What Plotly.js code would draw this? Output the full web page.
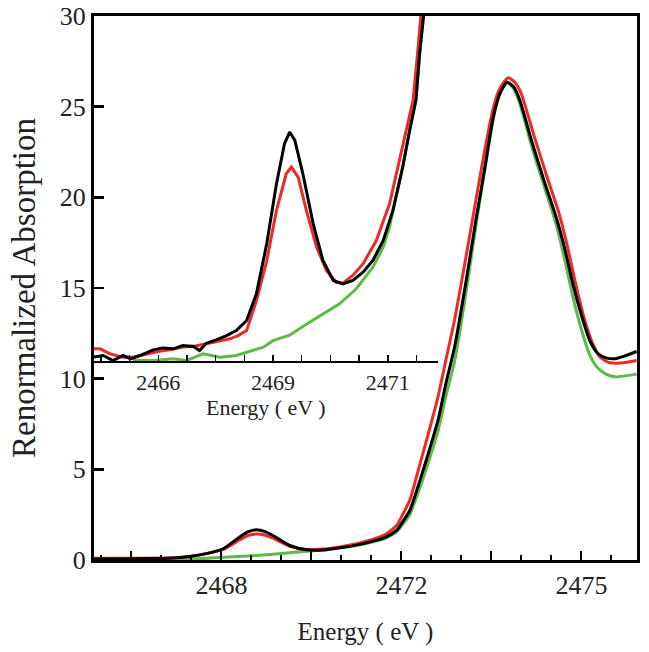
<!DOCTYPE html>
<html>
<head>
<meta charset="utf-8">
<script src="https://cdn.plot.ly/plotly-3.0.1.min.js"></script>
<style>
  html, body { margin: 0; padding: 0; background: #fff; }
  #chart { width: 649px; height: 652px; }
</style>
</head>
<body>
<div id="chart"></div>
<script>
// main spectra (energy in eV, renormalized absorption)
var mainBlackX = [2466.88, 2467.31, 2467.81, 2468.14, 2468.47, 2468.75, 2469.03, 2469.30, 2469.44, 2469.58, 2469.72, 2469.86, 2470.14, 2470.42, 2470.69, 2470.97, 2471.25, 2471.53, 2471.75, 2471.92, 2472.02, 2472.14, 2472.31, 2472.46, 2472.61, 2472.74, 2472.89, 2473.07, 2473.25, 2473.39, 2473.53, 2473.64, 2473.76, 2473.87, 2473.97, 2474.19, 2474.39, 2474.58, 2474.72, 2474.86, 2475.01, 2475.14, 2475.27, 2475.41, 2475.56, 2475.72, 2475.92];
var mainBlackY = [0.05, 0.06, 0.08, 0.10, 0.19, 0.35, 0.62, 1.26, 1.55, 1.67, 1.58, 1.35, 0.80, 0.56, 0.55, 0.67, 0.82, 1.04, 1.28, 1.63, 2.10, 2.73, 4.39, 6.0, 7.7, 9.7, 11.8, 15.2, 18.9, 21.6, 24.4, 25.7, 26.35, 26.1, 25.4, 22.9, 20.8, 18.9, 17.2, 15.2, 13.4, 12.1, 11.4, 11.15, 11.1, 11.25, 11.5];

var mainRedX = [2466.88, 2467.31, 2467.81, 2468.14, 2468.47, 2468.75, 2469.03, 2469.30, 2469.44, 2469.58, 2469.72, 2469.86, 2470.14, 2470.42, 2470.69, 2470.97, 2471.25, 2471.53, 2471.75, 2471.92, 2472.02, 2472.14, 2472.31, 2472.46, 2472.61, 2472.74, 2472.89, 2473.07, 2473.25, 2473.39, 2473.53, 2473.64, 2473.78, 2473.90, 2474.00, 2474.22, 2474.42, 2474.62, 2474.76, 2474.90, 2475.05, 2475.18, 2475.31, 2475.45, 2475.60, 2475.75, 2475.92];
var mainRedY = [0.10, 0.10, 0.10, 0.12, 0.20, 0.35, 0.58, 1.10, 1.35, 1.44, 1.38, 1.20, 0.75, 0.58, 0.60, 0.72, 0.90, 1.15, 1.45, 1.90, 2.5, 3.3, 5.3, 7.1, 9.0, 11.0, 13.3, 16.6, 20.0, 22.6, 24.9, 26.0, 26.6, 26.3, 25.7, 23.3, 21.2, 19.2, 17.4, 15.3, 13.3, 12.0, 11.2, 10.9, 10.85, 10.9, 11.0];

var mainGreenX = [2466.88, 2467.81, 2468.47, 2469.03, 2469.58, 2470.14, 2470.42, 2470.69, 2470.97, 2471.25, 2471.53, 2471.75, 2471.92, 2472.02, 2472.14, 2472.31, 2472.46, 2472.61, 2472.74, 2472.89, 2473.07, 2473.25, 2473.39, 2473.53, 2473.64, 2473.76, 2473.87, 2473.97, 2474.19, 2474.39, 2474.58, 2474.72, 2474.86, 2475.01, 2475.14, 2475.27, 2475.41, 2475.56, 2475.72, 2475.92];
var mainGreenY = [0.02, 0.03, 0.06, 0.15, 0.25, 0.40, 0.48, 0.55, 0.67, 0.80, 1.00, 1.22, 1.55, 1.95, 2.5, 4.0, 5.5, 7.1, 9.0, 11.0, 14.6, 18.6, 21.5, 24.3, 25.7, 26.35, 26.0, 25.2, 22.6, 20.5, 18.5, 16.6, 14.5, 12.6, 11.3, 10.6, 10.25, 10.1, 10.15, 10.25];

// inset: pre-edge region
var insetBlackX = [2465.88, 2466.04, 2466.21, 2466.39, 2466.52, 2466.68, 2466.91, 2467.08, 2467.26, 2467.43, 2467.61, 2467.72, 2467.84, 2468.01, 2468.19, 2468.36, 2468.54, 2468.71, 2468.89, 2469.06, 2469.20, 2469.29, 2469.38, 2469.52, 2469.70, 2469.87, 2470.05, 2470.22, 2470.39, 2470.57, 2470.74, 2470.92, 2471.09, 2471.26, 2471.38, 2471.49, 2471.56, 2471.64];
var insetBlackY = [11.19, 11.28, 11.00, 11.28, 11.10, 11.28, 11.59, 11.70, 11.65, 11.83, 11.78, 11.55, 11.96, 12.14, 12.38, 12.66, 13.21, 14.68, 17.44, 20.75, 22.96, 23.6, 23.14, 21.3, 18.54, 16.52, 15.42, 15.23, 15.42, 15.87, 16.52, 17.62, 19.28, 21.67, 23.69, 25.35, 28.1, 30.5];

var insetRedX = [2465.81, 2465.99, 2466.16, 2466.39, 2466.56, 2466.76, 2466.99, 2467.20, 2467.43, 2467.65, 2467.86, 2468.07, 2468.25, 2468.39, 2468.54, 2468.71, 2468.89, 2469.06, 2469.23, 2469.32, 2469.44, 2469.58, 2469.76, 2469.93, 2470.10, 2470.22, 2470.39, 2470.57, 2470.80, 2471.03, 2471.20, 2471.35, 2471.44, 2471.52, 2471.59];
var insetRedY = [11.65, 11.65, 11.37, 11.19, 11.19, 11.35, 11.50, 11.60, 11.75, 11.80, 11.95, 12.10, 12.20, 12.38, 12.66, 14.3, 16.5, 19.28, 21.3, 21.67, 21.1, 19.28, 17.25, 15.97, 15.32, 15.27, 15.69, 16.34, 17.62, 19.65, 22.04, 24.24, 25.35, 28.0, 30.5];

var insetGreenX = [2466.56, 2466.94, 2467.26, 2467.49, 2467.78, 2468.07, 2468.36, 2468.54, 2468.83, 2469.00, 2469.29, 2469.58, 2469.87, 2470.16, 2470.45, 2470.74, 2470.92, 2471.03, 2471.09, 2471.26, 2471.38, 2471.49, 2471.56, 2471.64];
var insetGreenY = [11.0, 11.0, 11.1, 11.0, 11.37, 11.19, 11.28, 11.46, 11.74, 12.1, 12.4, 13.0, 13.58, 14.13, 14.96, 16.15, 17.25, 18.36, 19.28, 21.67, 23.69, 25.35, 28.1, 30.5];

var RED = '#ee2a24';
var GREEN = '#5bbb46';
var BLACK = '#000000';
var FONT = 'Liberation Serif, Times New Roman, serif';

function trace(x, y, color, xa, ya, shape) {
    return {
        x: x, y: y, type: 'scatter', mode: 'lines',
        xaxis: xa, yaxis: ya,
        line: {color: color, width: 3, shape: shape, smoothing: 0.6},
        hoverinfo: 'skip'
    };
}

var data = [
    trace(mainGreenX, mainGreenY, GREEN, 'x', 'y', 'spline'),
    trace(mainRedX, mainRedY, RED, 'x', 'y', 'spline'),
    trace(mainBlackX, mainBlackY, BLACK, 'x', 'y', 'spline'),
    trace(insetGreenX, insetGreenY, GREEN, 'x2', 'y2', 'linear'),
    trace(insetRedX, insetRedY, RED, 'x2', 'y2', 'linear'),
    trace(insetBlackX, insetBlackY, BLACK, 'x2', 'y2', 'linear')
];

var layout = {
    width: 649, height: 652,
    margin: {l: 94, r: 12, t: 16, b: 92},
    paper_bgcolor: '#fff', plot_bgcolor: 'rgba(0,0,0,0)',
    showlegend: false,
    font: {family: FONT, color: '#222', size: 25},
    xaxis: {
        range: [2466.877, 2475.927],
        tickmode: 'array',
        tickvals: [2467.5, 2469, 2470.5, 2472, 2473.5, 2475],
        ticktext: ['', '2468', '', '2472', '', '2475'],
        ticks: 'inside', ticklen: 9, tickwidth: 2, tickcolor: '#000',
        minor: {tickmode: 'linear', tick0: 2472, dtick: 0.5, ticks: 'inside', ticklen: 5, tickwidth: 2, tickcolor: '#000', showgrid: false},
        showline: true, linewidth: 3, linecolor: '#000', mirror: true,
        showgrid: false, zeroline: false,
        tickfont: {family: FONT, size: 26, color: '#222'},
        title: {text: 'Energy ( eV )', font: {family: FONT, size: 25, color: '#222'}, standoff: 24},
        automargin: false
    },
    yaxis: {
        range: [0, 30],
        tickmode: 'linear', tick0: 0, dtick: 5,
        ticks: 'inside', ticklen: 10, tickwidth: 2.5, tickcolor: '#000',
        showline: true, linewidth: 3, linecolor: '#000', mirror: true,
        showgrid: false, zeroline: false,
        tickfont: {family: FONT, size: 26, color: '#222'},
        title: {text: 'Renormalized Absorption', font: {family: FONT, size: 33, color: '#222'}, standoff: 15},
        automargin: false
    },
    xaxis2: {
        domain: [0, 0.633], anchor: 'y2',
        range: [2465.88, 2471.87],
        tickmode: 'array',
        tickvals: [2467, 2469, 2471],
        ticktext: ['2466', '2469', '2471'],
        ticks: 'inside', ticklen: 6, tickwidth: 1.5, tickcolor: '#000',
        minor: {tickmode: 'linear', tick0: 2466, dtick: 0.5, ticks: 'inside', ticklen: 6, tickwidth: 1.5, tickcolor: '#000', showgrid: false},
        showline: true, linewidth: 2, linecolor: '#000',
        showgrid: false, zeroline: false,
        tickfont: {family: FONT, size: 22, color: '#222'},
        title: {text: 'Energy ( eV )', font: {family: FONT, size: 22, color: '#222'}, standoff: 4},
        automargin: false
    },
    yaxis2: {
        domain: [0.3649, 1], anchor: 'x2',
        range: [10.95, 30],
        visible: false
    }
};

Plotly.newPlot('chart', data, layout, {staticPlot: true});
</script>
</body>
</html>
